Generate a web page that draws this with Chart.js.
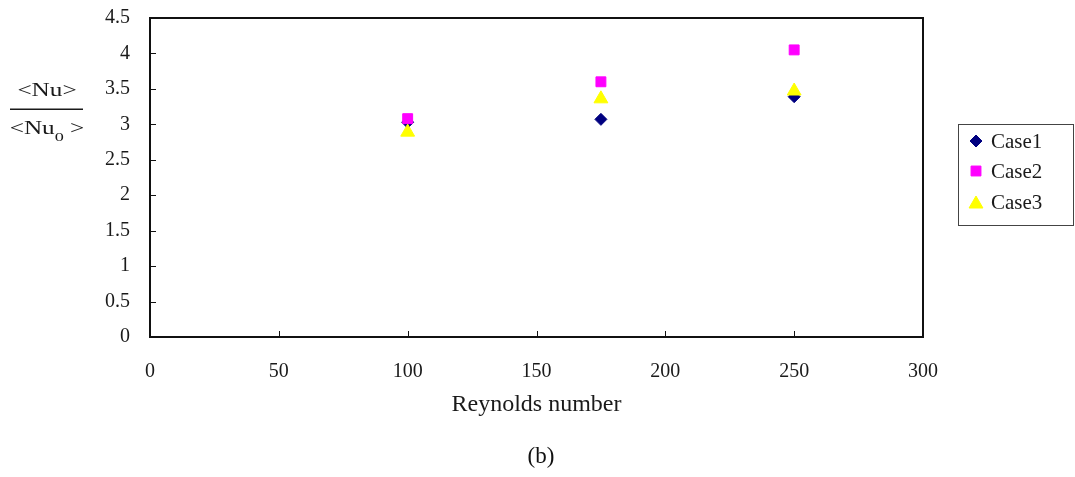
<!DOCTYPE html>
<html>
<head>
<meta charset="utf-8">
<script src="https://cdn.jsdelivr.net/npm/chart.js@4/dist/chart.umd.min.js"></script>
<style>
  html, body { margin: 0; padding: 0; background: #fff; }
  #wrap { position: relative; width: 1075px; height: 477px; }
  #caption {
    position: absolute; left: 0; width: 1082px; top: 443px;
    text-align: center; font: 23px "Liberation Serif", serif; color: #111;
  }
</style>
</head>
<body>
<div id="wrap">
  <canvas id="chart" width="1075" height="477"></canvas>
  <div id="caption">(b)</div>
</div>
<script>
// data
const reynolds = [100, 175, 250];
const case1 = [3.03, 3.07, 3.39];
const case2 = [3.08, 3.60, 4.05];
const case3 = [2.89, 3.36, 3.47];
const seriesNames = ['Case1', 'Case2', 'Case3'];
const xTicks = [0, 50, 100, 150, 200, 250, 300];
const yTicks = [0, 0.5, 1, 1.5, 2, 2.5, 3, 3.5, 4, 4.5];

const serif = '"Liberation Serif", "Times New Roman", serif';
const ink = '#1a1a1a';

function toPoints(ys) {
  return reynolds.map((x, i) => ({ x: x, y: ys[i] }));
}

// frame, inward tick marks, y title fraction, boxed legend
const extras = {
  id: 'extras',
  afterDraw(chart) {
    const ctx = chart.ctx;
    const a = chart.chartArea;
    const xs = chart.scales.x, ys = chart.scales.y;
    ctx.save();
    ctx.strokeStyle = '#111';
    ctx.lineWidth = 2;
    ctx.strokeRect(a.left, a.top, a.right - a.left, a.bottom - a.top);

    ctx.lineWidth = 1;
    ctx.beginPath();
    yTicks.forEach(v => {
      const py = Math.round(ys.getPixelForValue(v)) + 0.5;
      ctx.moveTo(a.left, py); ctx.lineTo(a.left + 6, py);
    });
    xTicks.forEach(v => {
      const px = Math.round(xs.getPixelForValue(v)) + 0.5;
      ctx.moveTo(px, a.bottom); ctx.lineTo(px, a.bottom - 6);
    });
    ctx.stroke();

    // y title as a fraction
    ctx.fillStyle = ink;
    ctx.textBaseline = 'middle';
    const big = '18px ' + serif, small = '13px ' + serif;
    const cx = 47;
    ctx.save();
    ctx.translate(cx, 91);
    ctx.scale(1.4, 1);
    ctx.font = big;
    ctx.textAlign = 'center';
    ctx.fillText('<Nu>', 0, 0);
    ctx.restore();

    ctx.fillRect(10, 108.5, 73, 1.5);

    ctx.save();
    ctx.translate(cx, 129);
    ctx.scale(1.4, 1);
    const p1 = '<Nu', p3 = ' >';
    ctx.font = big;
    const w1 = ctx.measureText(p1).width;
    const w3 = ctx.measureText(p3).width;
    ctx.font = small;
    const w2 = ctx.measureText('0').width;
    const sx = -(w1 + w2 + w3) / 2;
    ctx.textAlign = 'left';
    ctx.font = big;
    ctx.fillText(p1, sx, 0);
    ctx.fillText(p3, sx + w1 + w2, 0);
    ctx.font = small;
    ctx.fillText('0', sx + w1, 9);
    ctx.restore();

    // legend box
    ctx.strokeStyle = '#444';
    ctx.lineWidth = 1;
    ctx.strokeRect(958.5, 124.5, 115, 101);
    ctx.font = '21px ' + serif;
    ctx.textAlign = 'left';
    const rowY = [141, 171, 202];
    chart.data.datasets.forEach((ds, i) => {
      ctx.fillStyle = ds.backgroundColor;
      ctx.strokeStyle = ds.borderColor;
      Chart.helpers.drawPoint(ctx, {
        pointStyle: ds.pointStyle,
        radius: ds.pointRadius,
        borderWidth: 1,
        rotation: 0
      }, 976, rowY[i] + (ds.pointStyle === 'triangle' ? 2 : 0));
      ctx.fillStyle = ink;
      ctx.fillText(ds.label, 991, rowY[i] + 1);
    });
    ctx.restore();
  }
};

function noEdgePadding(scale) {
  scale.paddingTop = 0;
  scale.paddingBottom = 0;
  scale.paddingLeft = 0;
  scale.paddingRight = 0;
}

new Chart(document.getElementById('chart'), {
  type: 'scatter',
  data: {
    datasets: [{
      label: seriesNames[0],
      data: toPoints(case1),
      pointStyle: 'rectRot',
      pointRadius: 6,
      backgroundColor: '#000080',
      borderColor: '#000080',
      borderWidth: 1,
      order: 3
    }, {
      label: seriesNames[1],
      data: toPoints(case2),
      pointStyle: 'rect',
      pointRadius: 7,
      backgroundColor: '#ff00ff',
      borderColor: '#ff00ff',
      borderWidth: 1,
      order: 2
    }, {
      label: seriesNames[2],
      data: toPoints(case3),
      pointStyle: 'triangle',
      pointRadius: 8,
      backgroundColor: '#ffff00',
      borderColor: '#ffff00',
      borderWidth: 1,
      order: 1
    }]
  },
  options: {
    responsive: false,
    animation: false,
    layout: { padding: { top: 18, right: 152, bottom: 57, left: 0 } },
    plugins: {
      legend: { display: false },
      tooltip: { enabled: false }
    },
    scales: {
      x: {
        type: 'linear',
        min: 0,
        max: 300,
        afterBuildTicks: scale => { scale.ticks = xTicks.map(v => ({ value: v })); },
        afterFit: scale => { scale.height = 83; noEdgePadding(scale); },
        ticks: { font: { family: serif, size: 20 }, color: ink, padding: 15, maxRotation: 0,
                 callback: v => String(v) },
        grid: { display: false },
        border: { display: false },
        title: {
          display: true,
          text: 'Reynolds number',
          font: { family: serif, size: 24 },
          color: ink,
          padding: { top: 0, bottom: 1 }
        }
      },
      y: {
        min: 0,
        max: 4.5,
        afterBuildTicks: scale => { scale.ticks = yTicks.map(v => ({ value: v })); },
        afterFit: scale => { scale.width = 150; noEdgePadding(scale); },
        ticks: { font: { family: serif, size: 20 }, color: ink, padding: 12,
                 callback: v => String(v) },
        grid: { display: false },
        border: { display: false }
      }
    }
  },
  plugins: [extras]
});
</script>
</body>
</html>
